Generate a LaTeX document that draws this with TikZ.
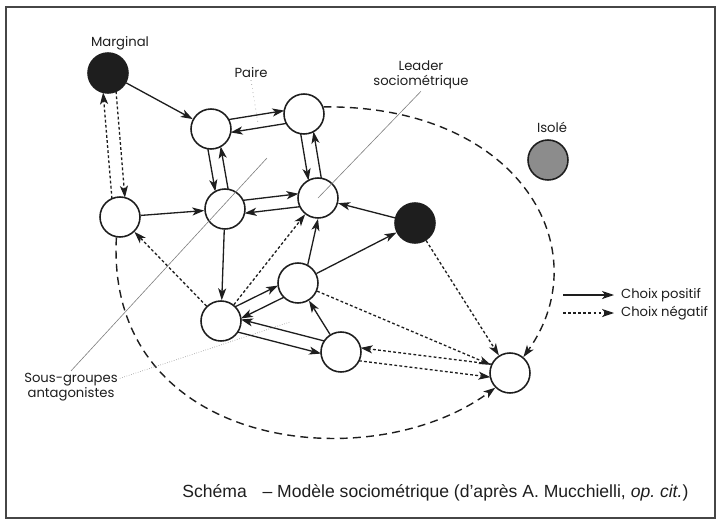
\documentclass[tikz,border=0pt]{standalone}
\usepackage{fontspec}
\usetikzlibrary{arrows.meta,calc}
\newfontfamily\labelfont{Poppins}
\newfontfamily\capfont{Liberation Sans}
\definecolor{ink}{RGB}{30,30,30}
\definecolor{isogray}{RGB}{140,140,140}
\definecolor{framegray}{RGB}{70,70,70}

\begin{document}
\begin{tikzpicture}[x=0.02cm,y=-0.02cm,
      member/.style={circle,draw=ink,line width=0.9pt,minimum size=0.8cm,inner sep=0pt},
      poschoice/.style={ink,line width=0.75pt,-{Stealth[length=6.8pt,width=4.6pt,inset=1.8pt]}},
      negchoice/.style={poschoice,dash pattern=on 1.6pt off 1.3pt},
      bound/.style={poschoice,line width=0.8pt,dash pattern=on 4.5pt off 3pt},
      lbl/.style={font=\labelfont\fontsize{7.5}{8.6}\selectfont,text=ink,align=center,inner sep=1pt},
      pointer/.style={gray,line width=0.35pt}]
    \useasboundingbox (0,0) rectangle (721,525);
    \draw[framegray,line width=1pt] (6,7) rectangle (715,518);
    % members of the group
    \node[member,fill=ink]     (marg) at (108,73)  {};
    \node[member]              (pa)   at (211,129) {};
    \node[member]              (pb)   at (304,114) {};
    \node[member]              (lf)   at (120,217) {};
    \node[member]              (cen)  at (225,209) {};
    \node[member]              (lead) at (318,198) {};
    \node[member,fill=ink]     (blk)  at (415,223) {};
    \node[member,fill=isogray] (iso)  at (548,160) {};
    \node[member]              (sa)   at (298,283) {};
    \node[member]              (sb)   at (221,321) {};
    \node[member]              (sc)   at (341,352) {};
    \node[member]              (tgt)  at (510,373) {};
    % mutual choices
    \foreach \a/\b/\s in {pa/pb/90,pa/cen/-90,pb/lead/-90,cen/lead/90,sb/sa/90,sb/sc/-90}{
      \draw[poschoice,shorten <=3.78mm,shorten >=3.78mm] ($(\a)!1.3mm!\s:(\b)$) -- ($(\b)!-1.3mm!\s:(\a)$);
      \draw[poschoice,shorten <=3.78mm,shorten >=3.78mm] ($(\b)!1.3mm!\s:(\a)$) -- ($(\a)!-1.3mm!\s:(\b)$);}
    \foreach \a/\b/\s in {marg/lf/90,sc/tgt/-90}{
      \draw[negchoice,shorten <=3.78mm,shorten >=3.78mm] ($(\a)!1.3mm!\s:(\b)$) -- ($(\b)!-1.3mm!\s:(\a)$);
      \draw[negchoice,shorten <=3.78mm,shorten >=3.78mm] ($(\b)!1.3mm!\s:(\a)$) -- ($(\a)!-1.3mm!\s:(\b)$);}
    % one-way choices
    \foreach \a/\b in {marg/pa,lf/cen,blk/lead,cen/sb,sa/blk,sc/sa}{\draw[poschoice](\a)--(\b);}
    \draw[poschoice] (sa.62) -- (lead.south);
    \foreach \a/\b in {sb/lf,sb/lead,sa/tgt,blk/tgt}{\draw[negchoice](\a)--(\b);}
    \draw[bound] (pb.20) .. controls (520,105) and (600,250) .. (tgt.50);
    \draw[bound] (lf.260) .. controls (105,450) and (370,480) .. (tgt.225);
    % labels
    \node[lbl] (margl)  at (120,43)  {Marginal};
    \node[lbl] (paire)  at (251,73)  {Paire};
    \node[lbl] (leader) at (421,75)  {Leader\\sociométrique};
    \node[lbl] (isol)   at (552,127) {Isolé};
    \node[lbl] (sg)     at (71,387)  {Sous-groupes\\antagonistes};
    \coordinate (pairpt) at (258,123);
    \coordinate (sgup)   at (267,158);
    \coordinate (sgdown) at (290,322);
    \draw[pointer,dotted]        (paire.south) -- (pairpt);
    \draw[pointer]               (leader.south) -- (lead.center);
    \draw[pointer]               (sg.north) -- (sgup);
    \draw[pointer,densely dotted] (sg.10) -- (sgdown);
    % legend
    \node[lbl,anchor=west] (kpos) at (619,295) {Choix positif};
    \node[lbl,anchor=west] (kneg) at (619,313) {Choix négatif};
    \coordinate (lp) at (563,295);
    \coordinate (ln) at (563,313);
    \draw[poschoice] (lp) -- ($(kpos.west)+(-5,0)$);
    \draw[negchoice] (ln) -- ($(kneg.west)+(-5,0)$);
    % caption
    \node[font=\capfont\fontsize{10}{12}\selectfont,text=ink,anchor=west,inner sep=0pt] (cap) at (182,493)
      {Schéma\hspace{0.9em}– Modèle sociométrique (d’après A. Mucchielli, \textit{op.~cit.})};
  \end{tikzpicture}
\end{document}
